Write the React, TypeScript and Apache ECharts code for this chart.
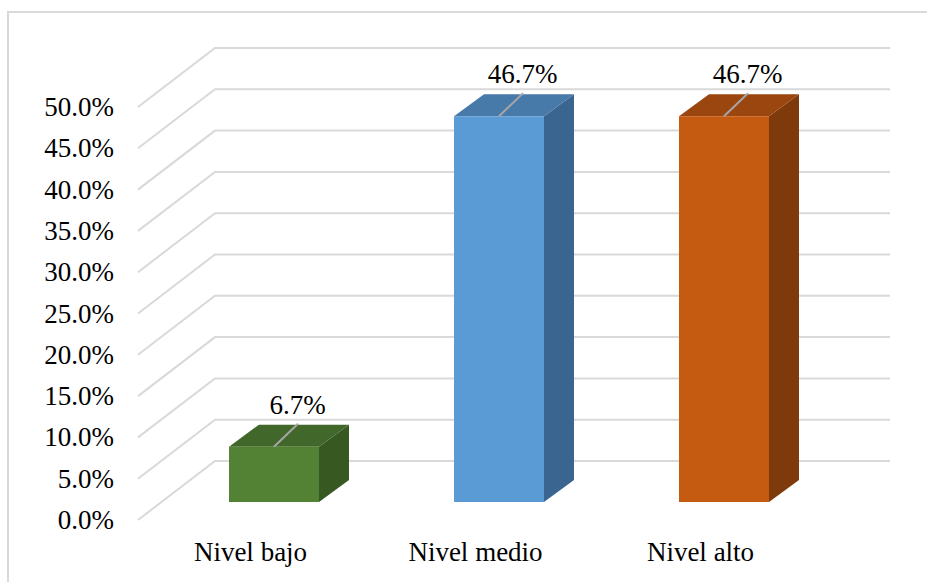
import React, { useEffect, useRef } from "react";
import * as echarts from "echarts";

// Chart data
const categories = ["Nivel bajo", "Nivel medio", "Nivel alto"];
const values = [6.7, 46.7, 46.7];
const axisMin = 0;
const axisMax = 50;
const axisStep = 5;

// Face colours for each bar: front, top, side
const frontColors = ["#548235", "#5b9bd5", "#c55a11"];
const topColors = ["#41672a", "#4779a9", "#9a460e"];
const sideColors = ["#375921", "#3a6590", "#7e3a0b"];

// Perspective of the floor / back wall (pixels)
const WALL_DX = 77;
const WALL_DY = -59;
// Front face of each bar sits a little into the floor
const FACE_DX = 23.5;
const FACE_DY = -18;
// Depth of the bar itself
const BAR_DX = 30;
const BAR_DY = -22;

const FONT = "serif";
const GRID_COLOR = "#d9d9d9";

const tickValues: number[] = [];
for (let v = axisMin; v <= axisMax + 1e-9; v += axisStep) tickValues.push(v);

export default function App() {
  const ref = useRef<HTMLDivElement>(null);

  useEffect(() => {
    if (!ref.current) return;
    const chart = echarts.init(ref.current, undefined, { renderer: "svg" });

    const option: any = {
      animation: false,
      backgroundColor: "#ffffff",
      textStyle: { fontFamily: FONT },
      graphic: [
        {
          type: "polyline",
          shape: { points: [[8, 582], [8, 12], [927, 12]] },
          style: { stroke: GRID_COLOR, lineWidth: 2, fill: null },
          silent: true,
        },
      ],
      grid: { left: 138, right: 114, top: 107, bottom: 62 },
      xAxis: {
        type: "category",
        data: categories,
        axisLine: { show: false },
        axisTick: { show: false },
        splitLine: { show: false },
        axisLabel: {
          color: "#000",
          fontFamily: FONT,
          fontSize: 27,
          margin: 18,
        },
      },
      yAxis: {
        type: "value",
        min: axisMin,
        max: axisMax,
        interval: axisStep,
        axisLine: { show: false },
        axisTick: { show: false },
        splitLine: { show: false },
        axisLabel: {
          color: "#000",
          fontFamily: FONT,
          fontSize: 27,
          margin: 24,
          formatter: (v: number) => v.toFixed(1) + "%",
        },
      },
      series: [
        {
          // perspective gridlines: diagonal on the left wall, then along the back wall
          type: "custom",
          silent: true,
          z: 1,
          data: tickValues.map((v) => [0, v]),
          renderItem: (params: any, api: any) => {
            const cs = params.coordSys;
            const y = api.coord([0, api.value(1)])[1];
            const left = cs.x;
            const right = cs.x + cs.width;
            return {
              type: "polyline",
              shape: {
                points: [
                  [left, y],
                  [left + WALL_DX, y + WALL_DY],
                  [right + WALL_DX, y + WALL_DY],
                ],
              },
              style: { stroke: GRID_COLOR, lineWidth: 2, fill: null },
            };
          },
        },
        {
          // 3D bars with value labels
          type: "custom",
          z: 2,
          data: values.map((v, i) => [i, v]),
          renderItem: (params: any, api: any) => {
            const i = api.value(0);
            const v = api.value(1);
            const base = api.coord([i, 0]);
            const topPt = api.coord([i, v]);
            const bw = api.size([1, 0])[0] * 0.4;
            const fx = base[0] + FACE_DX - bw / 2;
            const by = base[1] + FACE_DY;
            const ty = topPt[1] + FACE_DY;
            const cx = fx + bw / 2;
            return {
              type: "group",
              children: [
                {
                  type: "polygon",
                  shape: {
                    points: [
                      [fx + bw, by],
                      [fx + bw + BAR_DX, by + BAR_DY],
                      [fx + bw + BAR_DX, ty + BAR_DY],
                      [fx + bw, ty],
                    ],
                  },
                  style: { fill: sideColors[i] },
                },
                {
                  type: "polygon",
                  shape: {
                    points: [
                      [fx, ty],
                      [fx + bw, ty],
                      [fx + bw + BAR_DX, ty + BAR_DY],
                      [fx + BAR_DX, ty + BAR_DY],
                    ],
                  },
                  style: { fill: topColors[i] },
                },
                {
                  type: "rect",
                  shape: { x: fx, y: ty, width: bw, height: by - ty },
                  style: { fill: frontColors[i] },
                },
                {
                  type: "line",
                  shape: { x1: cx, y1: ty, x2: cx + 24, y2: ty - 23 },
                  style: { stroke: "#a6a6a6", lineWidth: 2 },
                },
                {
                  type: "text",
                  x: cx + 23.5,
                  y: ty - 42,
                  style: {
                    text: v.toFixed(1) + "%",
                    fill: "#000",
                    fontFamily: FONT,
                    fontSize: 27,
                    align: "center",
                    verticalAlign: "middle",
                  },
                },
              ],
            };
          },
        },
      ],
    };

    chart.setOption(option);
    return () => chart.dispose();
  }, []);

  return (
    <div
      ref={ref}
      style={{ position: "fixed", left: 0, top: 0, width: 927, height: 582 }}
    />
  );
}
